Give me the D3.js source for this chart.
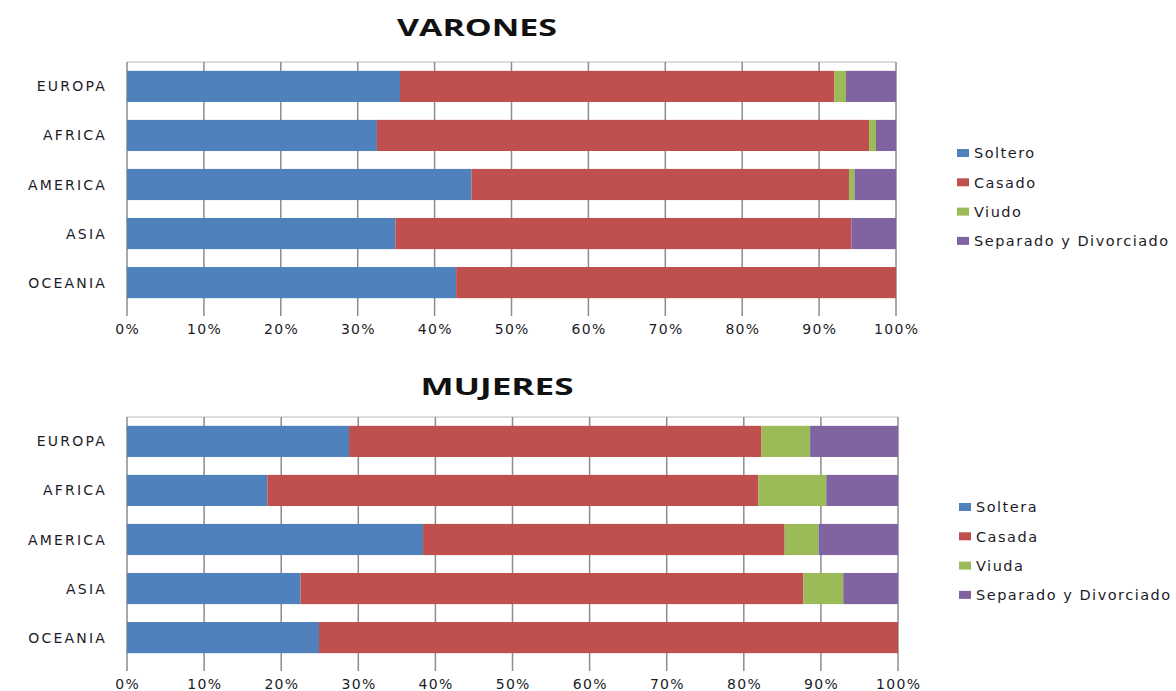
<!DOCTYPE html>
<html><head><meta charset="utf-8">
<script src="https://cdn.jsdelivr.net/npm/d3@7"></script>
<style>body{margin:0;background:#fff;} svg{display:block;}</style>
</head><body>
<svg id="c" width="1176" height="691"></svg>
<script>
const regions = ["EUROPA","AFRICA","AMERICA","ASIA","OCEANIA"];
const ticks = [0,10,20,30,40,50,60,70,80,90,100];
const colors = ["#4F81BD","#C0504D","#9BBB59","#8064A2"];

const menSeries = ["Soltero","Casado","Viudo","Separado y Divorciado"];
const menSoltero = [35.5, 32.5, 44.8, 34.9, 42.8];
const menCasado  = [56.5, 64.0, 49.1, 59.3, 57.2];
const menViudo   = [1.5, 0.9, 0.7, 0.0, 0.0];
const menSeparado= [6.5, 2.6, 5.4, 5.8, 0.0];

const womenSeries = ["Soltera","Casada","Viuda","Separado y Divorciado"];
const womenSoltera = [28.8, 18.2, 38.4, 22.5, 24.9];
const womenCasada  = [53.5, 63.7, 46.9, 65.2, 75.1];
const womenViuda   = [6.3, 8.8, 4.4, 5.2, 0.0];
const womenSeparado= [11.4, 9.3, 10.3, 7.1, 0.0];

const svg = d3.select("#c");
const textColor = "#1c1c28";

function drawChart(cfg){
  const g = svg.append("g");
  const x = d3.scaleLinear().domain([0,100]).range([cfg.left, cfg.right]);
  const y = d3.scaleBand().domain(regions).range([cfg.top, cfg.bottom]).paddingInner(0.365).paddingOuter(0.18);

  // title
  g.append("text").attr("x", cfg.titleX).attr("y", cfg.titleY).attr("text-anchor","middle")
    .attr("font-family","'Open Sans', 'DejaVu Sans', sans-serif").attr("font-weight","bold")
    .attr("font-size", 24).attr("fill","#111")
    .attr("textLength", cfg.titleW).attr("lengthAdjust","spacingAndGlyphs").text(cfg.title);

  // gridlines
  g.append("line").attr("x1",cfg.left).attr("x2",cfg.right).attr("y1",cfg.top).attr("y2",cfg.top)
    .attr("stroke","#bbb").attr("stroke-width",1);
  g.selectAll(".grid").data(ticks).enter().append("line")
    .attr("x1", d=>x(d)).attr("x2", d=>x(d)).attr("y1", cfg.top).attr("y2", cfg.bottom + 9)
    .attr("stroke","#8c8c8c").attr("stroke-width",1.5);

  // stacked bars
  const rows = regions.map((r,i)=>{ const o={region:r}; cfg.series.forEach((s,k)=>o[s]=cfg.values[k][i]); return o; });
  const stack = d3.stack().keys(cfg.series)(rows);
  stack.forEach((layer,k)=>{
    g.selectAll(null).data(layer).enter().append("rect")
      .attr("x", d=>x(d[0])).attr("width", d=>Math.max(0, x(d[1])-x(d[0])))
      .attr("y", d=>y(d.data.region)).attr("height", y.bandwidth())
      .attr("fill", colors[k]);
  });

  // category labels
  g.selectAll(null).data(regions).enter().append("text")
    .attr("x", 107).attr("y", d=>y(d)+y.bandwidth()/2).attr("dy","0.36em")
    .attr("text-anchor","end").attr("font-family","'DejaVu Sans', sans-serif")
    .attr("font-size",14).attr("letter-spacing","2.2px").attr("fill",textColor).text(d=>d);

  // tick labels
  g.selectAll(null).data(ticks).enter().append("text")
    .attr("x", d=>x(d)+0.7).attr("y", cfg.bottom + 27).attr("text-anchor","middle")
    .attr("font-family","'DejaVu Sans', sans-serif").attr("font-size",14)
    .attr("letter-spacing","1.3px").attr("fill",textColor).text(d=>d+"%");

  // legend
  cfg.series.forEach((s,k)=>{
    const ly = cfg.legendY + k*29.3;
    g.append("rect").attr("x", cfg.legendX).attr("y", ly-4).attr("width",12).attr("height",8).attr("fill",colors[k]);
    g.append("text").attr("x", cfg.legendX+17).attr("y", ly).attr("dy","0.36em")
      .attr("font-family","'DejaVu Sans', sans-serif").attr("font-size",14.5)
      .attr("letter-spacing","1.5px").attr("fill",textColor).text(s);
  });
}

drawChart({title:"VARONES", titleX:477, titleY:36, titleW:160, left:127, right:896, top:62, bottom:307,
  series: menSeries, values:[menSoltero, menCasado, menViudo, menSeparado], legendX:957, legendY:153});
drawChart({title:"MUJERES", titleX:497, titleY:395, titleW:153, left:127, right:898, top:417, bottom:662,
  series: womenSeries, values:[womenSoltera, womenCasada, womenViuda, womenSeparado], legendX:959, legendY:507});
</script>
</body></html>
